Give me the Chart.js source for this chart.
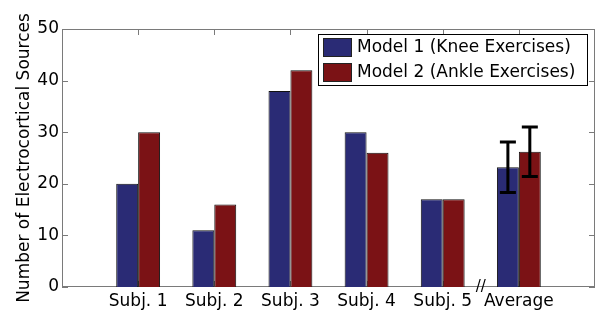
<!DOCTYPE html>
<html>
<head>
<meta charset="utf-8">
<script src="https://cdn.jsdelivr.net/npm/chart.js@4/dist/chart.umd.min.js"></script>
<style>
    body { margin: 0; background: #fff; }
    canvas { display: block; }
</style>
</head>
<body>
<canvas id="sourcesChart" width="599" height="311"></canvas>
<script>
var categories = ['Subj. 1', 'Subj. 2', 'Subj. 3', 'Subj. 4', 'Subj. 5', 'Average'];
var model1 = [20, 11, 38, 30, 17, 23.2];
var model2 = [30, 16, 42, 26, 17, 26.2];
// error bars only on the average group
var model1Err = [null, null, null, null, null, 4.9];
var model2Err = [null, null, null, null, null, 4.8];
var seriesNames = ['Model 1 (Knee Exercises)', 'Model 2 (Ankle Exercises)'];
var yTicks = [0, 10, 20, 30, 40, 50];

var FONT = 'DejaVu Sans';

// empty slot on both sides, like xlim [0 7]
var labels = [''].concat(categories, ['']);
function padded(arr) {
    return [null].concat(arr, [null]);
}

var frameTicks = {
    id: 'frameTicks',
    beforeDatasetsDraw: function (chart) {
        var ctx = chart.ctx, a = chart.chartArea;
        var xs = chart.scales.x, ys = chart.scales.y;
        ctx.save();
        ctx.strokeStyle = '#7a7a7a';
        ctx.lineWidth = 1;
        ctx.strokeRect(a.left + 0.5, a.top + 0.5, a.right - a.left - 1, a.bottom - a.top - 1);
        ctx.beginPath();
        for (var i = 0; i < yTicks.length; i++) {
            var py = Math.round(ys.getPixelForValue(yTicks[i])) + 0.5;
            ctx.moveTo(a.left, py); ctx.lineTo(a.left + 6, py);
            ctx.moveTo(a.right, py); ctx.lineTo(a.right - 6, py);
        }
        for (var j = 1; j <= categories.length; j++) {
            var px = Math.round(xs.getPixelForValue(j)) + 0.5;
            ctx.moveTo(px, a.top); ctx.lineTo(px, a.top + 6);
            ctx.moveTo(px, a.bottom); ctx.lineTo(px, a.bottom - 6);
        }
        ctx.stroke();
        ctx.restore();
    },
    afterDraw: function (chart) {
        var ctx = chart.ctx, a = chart.chartArea;
        var xs = chart.scales.x, ys = chart.scales.y;
        ctx.save();

        // error bars
        var errs = [model1Err, model2Err];
        ctx.strokeStyle = '#000';
        ctx.lineWidth = 3;
        for (var d = 0; d < 2; d++) {
            var meta = chart.getDatasetMeta(d);
            var vals = chart.data.datasets[d].data;
            for (var k = 0; k < categories.length; k++) {
                var e = errs[d][k];
                if (e == null) continue;
                var bar = meta.data[k + 1];
                var yTop = ys.getPixelForValue(vals[k + 1] + e);
                var yBot = ys.getPixelForValue(vals[k + 1] - e);
                ctx.beginPath();
                ctx.moveTo(bar.x, yTop); ctx.lineTo(bar.x, yBot);
                ctx.moveTo(bar.x - 8, yTop); ctx.lineTo(bar.x + 8, yTop);
                ctx.moveTo(bar.x - 8, yBot); ctx.lineTo(bar.x + 8, yBot);
                ctx.stroke();
            }
        }

        // axis break mark between Subj. 5 and Average
        ctx.fillStyle = '#000';
        ctx.font = '15px "' + FONT + '"';
        ctx.textAlign = 'center';
        ctx.textBaseline = 'middle';
        ctx.fillText('//', xs.getPixelForValue(categories.length - 0.5), a.bottom);

        // legend box inside the axes
        var colors = [chart.data.datasets[0].backgroundColor, chart.data.datasets[1].backgroundColor];
        var bx = 318, by = a.top + 5, bw = 269, bh = 51;
        ctx.fillStyle = '#fff';
        ctx.fillRect(bx, by, bw, bh);
        ctx.strokeStyle = '#000';
        ctx.lineWidth = 1;
        ctx.strokeRect(bx + 0.5, by + 0.5, bw, bh);
        ctx.font = '17px "' + FONT + '"';
        ctx.textAlign = 'left';
        for (var s = 0; s < 2; s++) {
            var sy = by + 4 + s * 25;
            ctx.fillStyle = colors[s];
            ctx.fillRect(bx + 5, sy, 29, 19);
            ctx.strokeStyle = '#222';
            ctx.strokeRect(bx + 5.5, sy + 0.5, 28, 18);
            ctx.fillStyle = '#000';
            ctx.fillText(seriesNames[s], bx + 39, sy + 10);
        }
        ctx.restore();
    }
};

var ctx = document.getElementById('sourcesChart');
var sourcesChart = new Chart(ctx, {
    type: 'bar',
    data: {
        labels: labels,
        datasets: [
            {
                label: seriesNames[0],
                data: padded(model1),
                backgroundColor: '#2a2b75',
                borderColor: '#111',
                borderWidth: 1
            },
            {
                label: seriesNames[1],
                data: padded(model2),
                backgroundColor: '#7b1215',
                borderColor: '#111',
                borderWidth: 1
            }
        ]
    },
    options: {
        responsive: false,
        animation: false,
        devicePixelRatio: 1,
        layout: { padding: { top: 29, right: 2, left: 0, bottom: 0 } },
        datasets: {
            bar: { barPercentage: 1, categoryPercentage: 0.576 }
        },
        plugins: {
            legend: { display: false },
            tooltip: { enabled: false }
        },
        scales: {
            x: {
                offset: false,
                grid: { display: false, drawTicks: false },
                border: { display: false },
                ticks: {
                    autoSkip: false,
                    maxRotation: 0,
                    padding: 4,
                    color: '#000',
                    font: { family: FONT, size: 17 }
                },
                afterFit: function (scale) { scale.height = 24; }
            },
            y: {
                min: 0,
                max: 50,
                grid: { display: false, drawTicks: false },
                border: { display: false },
                ticks: {
                    stepSize: 10,
                    padding: 3,
                    color: '#000',
                    font: { family: FONT, size: 17 }
                },
                title: {
                    display: true,
                    text: 'Number of Electrocortical Sources',
                    color: '#000',
                    font: { family: FONT, size: 17, lineHeight: 1.2 },
                    padding: { top: 14, bottom: 0 }
                },
                afterFit: function (scale) { scale.width = 62; }
            }
        }
    },
    plugins: [frameTicks]
});
</script>
</body>
</html>
